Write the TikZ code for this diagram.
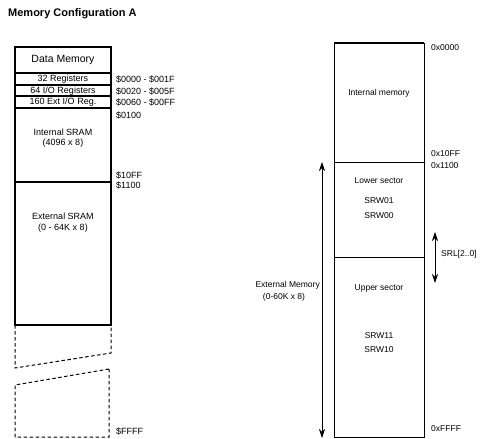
\documentclass[tikz,border=0pt]{standalone}
\usepackage{fontspec}
\setmainfont{Liberation Sans}
\usetikzlibrary{arrows.meta}
\begin{document}
\begin{tikzpicture}[x=1pt,y=-1pt,
  cell/.style={draw, line width=1.1pt, minimum width=96pt, anchor=north west, inner sep=0pt, outer sep=0pt},
  rcell/.style={draw, line width=0.8pt, minimum width=90pt, anchor=north west, inner sep=0pt, outer sep=0pt},
  lbl/.style={font=\fontsize{9}{10}\selectfont, inner sep=0pt},
  addr/.style={font=\fontsize{9}{10}\selectfont, inner sep=0pt, anchor=west},
  rlbl/.style={font=\fontsize{8.5}{10}\selectfont, inner sep=0pt},
  dashline/.style={line width=1pt, dash pattern=on 3.5pt off 2.5pt},
  arr/.style={line width=0.7pt, {Stealth[length=9pt,width=6pt]}-{Stealth[length=9pt,width=6pt]}}
]
\useasboundingbox (0,0) rectangle (483,439);
\node[anchor=west, inner sep=0pt, font=\bfseries\fontsize{11}{12}\selectfont] (title) at (8,14) {Memory Configuration A};
% left column
\node[cell, minimum height=26pt] (dm) at (15,47) {};
\node[cell, minimum height=12pt] (r32) at (15,73) {};
\node[cell, minimum height=11pt] (r64) at (15,85) {};
\node[cell, minimum height=12pt, line width=1.4pt] (r160) at (15,96) {};
\node[cell, minimum height=74pt] (isram) at (15,108) {};
\node[cell, minimum height=143pt] (esram) at (15,182) {};
\node[font=\fontsize{10.5}{12}\selectfont, inner sep=0pt] (tdm) at (63,60) {Data Memory};
\node[lbl] (t32) at (63,79) {32 Registers};
\node[lbl] (t64) at (63,91) {64 I/O Registers};
\node[lbl] (t160) at (63,102) {160 Ext I/O Reg.};
\node[lbl] (tis1) at (63,132) {Internal SRAM};
\node[lbl] (tis2) at (63,143) {(4096 x 8)};
\node[lbl] (tes1) at (63,216) {External SRAM};
\node[lbl] (tes2) at (63,228) {(0 - 64K x 8)};
\node[addr] (a1) at (116,79) {\$0000 - \$001F};
\node[addr] (a2) at (116,91) {\$0020 - \$005F};
\node[addr] (a3) at (116,102) {\$0060 - \$00FF};
\node[addr] (a4) at (116,115) {\$0100};
\node[addr] (a5) at (116,175) {\$10FF};
\node[addr] (a6) at (116,185) {\$1100};
\node[addr] (a7) at (116,431) {\$FFFF};
% dashed continuation
\coordinate (d1) at (esram.south west);
\coordinate (d2) at (esram.south east);
\coordinate (d3) at (15,368);
\coordinate (d4) at (111,353);
\coordinate (d5) at (15,385);
\coordinate (d6) at (109,369);
\coordinate (d7) at (15,437);
\coordinate (d8) at (109,437);
\draw[dashline] (d1) -- (d3) -- (d4) -- (d2);
\draw[dashline] (d6) -- (d5) -- (d7) -- (d8) -- cycle;
% right column
\node[rcell, minimum height=119pt] (im) at (334,43) {};
\node[rcell, minimum height=95pt] (ls) at (334,162) {};
\node[rcell, minimum height=180pt] (us) at (334,257) {};
\draw[line width=1.4pt] (im.north west) -- (im.north east);
\node[rlbl] (tim) at (379,93) {Internal memory};
\node[rlbl] (tls) at (379,181) {Lower sector};
\node[rlbl] (s01) at (379,201) {SRW01};
\node[rlbl] (s00) at (379,216) {SRW00};
\node[rlbl] (tus) at (379,288) {Upper sector};
\node[rlbl] (s11) at (379,336) {SRW11};
\node[rlbl] (s10) at (379,350) {SRW10};
\node[rlbl, anchor=west] (b1) at (431,48) {0x0000};
\node[rlbl, anchor=west] (b2) at (431,154) {0x10FF};
\node[rlbl, anchor=west] (b3) at (431,166) {0x1100};
\node[rlbl, anchor=west] (b4) at (431,429) {0xFFFF};
\coordinate (e1) at (322,162);
\coordinate (e2) at (322,438);
\draw[arr] (e1) -- (e2);
\node[rlbl, anchor=east] (tem1) at (320,285) {External Memory};
\node[rlbl] (tem2) at (284,297) {(0-60K x 8)};
\coordinate (s1) at (435,232);
\coordinate (s2) at (435,283);
\draw[arr] (s1) -- (s2);
\node[rlbl, anchor=west] (srl) at (441,254) {SRL[2..0]};
\end{tikzpicture}
\end{document}
